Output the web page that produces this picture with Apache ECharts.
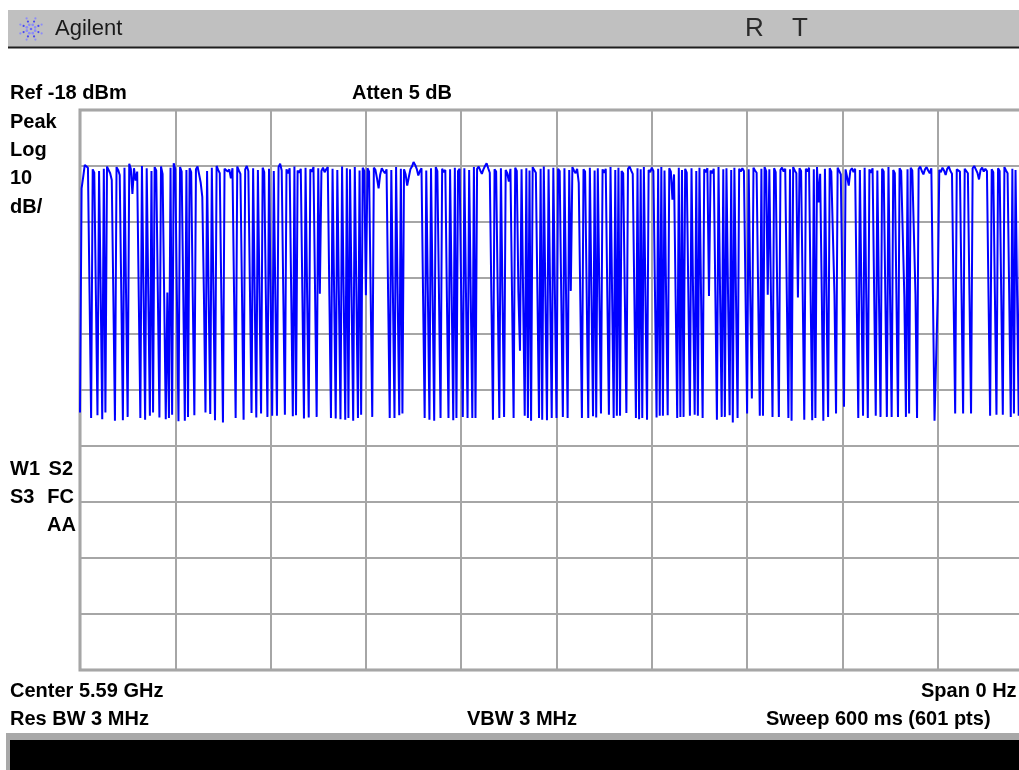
<!DOCTYPE html>
<html><head><meta charset="utf-8">
<script src="https://cdn.jsdelivr.net/npm/echarts@6/dist/echarts.min.js"></script>
<style>html,body{margin:0;padding:0;background:#fff;overflow:hidden}#c{width:1040px;height:770px}</style>
</head><body><div id="c"></div>
<script>
// ---- data ----
const sweepRangeMs = [0, 600];          // zero-span sweep, 601 points
const levelRangeDbm = [-118, -18];      // ref -18 dBm, 10 dB/div
const trace = [
-72,-32,-30,-27.8,-27.6,-28.3,-50.5,-73,-28.6,-29.2,
-51,-72.5,-28.9,-50,-73.2,-28.5,-72,-28.1,-28.4,-29.3,
-30.5,-51.2,-73.5,-28.2,-28.7,-29.6,-50.8,-73.4,-28.3,-51,
-72.8,-27.6,-28.5,-33,-28.4,-30.6,-29,-51.5,-73,-28,
-50.2,-73.3,-28.4,-50.9,-72.6,-28.9,-72,-28.2,-28.8,-50.5,
-72.9,-28.1,-29.4,-51.3,-73.2,-50.6,-73,-28.3,-72.4,-27.5,
-28.6,-51,-73.6,-28.2,-29,-50.4,-73.5,-28.7,-72.8,-28.4,
-29.1,-51.4,-72.5,-28.6,-28.1,-29.5,-31,-33.5,-50.7,-72,
-28.9,-51,-72.3,-28.3,-50.1,-73.4,-28,-28.7,-29.3,-51.6,
-73.8,-28.5,-28.2,-29,-28.6,-30.2,-28.4,-50.8,-73,-28.1,
-28.8,-29.4,-51.1,-73.3,-28.6,-28,-28.9,-50.3,-72.1,-28.4,
-51.2,-72.9,-28.7,-50.6,-72.2,-28.3,-29.1,-51,-72.8,-28.5,
-50.4,-72.6,-28.9,-51.5,-72.6,-28.2,-27.6,-28.8,-50.9,-72.4,
-28.6,-29.3,-28.4,-51.3,-72.7,-28.1,-72.5,-28.8,-29.2,-28.5,
-50.7,-73.1,-28.3,-51,-72.9,-28.6,-29,-28.2,-50.5,-72.8,
-28.4,-50.8,-28.9,-28.3,-29.1,-28.6,-28.2,-51.2,-73,-28.5,
-50.6,-73.1,-28.7,-51,-73.2,-28.1,-50.9,-73.3,-28.4,-73,
-28.6,-51.4,-73.5,-28.2,-50.5,-73,-28.8,-72.4,-28.3,-28.9,
-51.1,-28.4,-29,-50.8,-72.8,-28.3,-28.7,-30.2,-32,-29.5,
-28.4,-28.9,-29.3,-28.6,-51.3,-73,-28.7,-50.6,-73,-28.2,
-51.2,-72.5,-28.5,-72.2,-28.6,-29.5,-31.5,-30,-28.6,-28.1,
-27.3,-27.8,-28.5,-29.7,-28.9,-28.4,-51.2,-73,-28.8,-50.4,
-73.3,-28.4,-51,-73.5,-28.2,-28.9,-50.7,-73,-28.5,-29.1,
-28.7,-51.5,-73,-28.6,-50.9,-73.4,-28.3,-73,-28.9,-28.5,
-51.1,-72.8,-28.4,-50.6,-73,-28.7,-51,-73,-28.2,-73,
-28.5,-28.1,-28.8,-29.4,-28.6,-28,-27.5,-28.4,-29.2,-51.4,
-73.3,-28.6,-29,-50.8,-73,-28.4,-51.2,-72.8,-28.7,-29.3,
-30.8,-28.5,-51,-73,-28.3,-28.9,-50.5,-61,-28.6,-51.3,
-72.6,-28.4,-73,-28.8,-73.5,-28.2,-28.7,-29.2,-50.9,-73,
-28.5,-73.3,-28.1,-51.2,-73.4,-28.6,-50.7,-73,-28.3,-51,
-73,-28.5,-28.9,-51.5,-72.8,-28.4,-50.8,-73,-28.7,-50.3,
-28.2,-28.8,-29.3,-28.5,-31,-52,-73,-28.6,-29,-50.6,
-73,-28.3,-51.1,-72.7,-28.8,-72.9,-28.4,-50.9,-72.2,-28.6,
-29.2,-28.5,-51.3,-72.4,-28.2,-50.7,-73,-28.7,-72.6,-28.3,
-72.6,-28.9,-29.3,-51,-72.1,-28.5,-28.1,-28.8,-29.4,-50.8,
-73,-28.4,-73.2,-28.6,-73,-28.2,-51.2,-73.3,-28.7,-29.1,
-28.3,-28.9,-50.5,-72.9,-28.5,-72.6,-28.2,-72.6,-28.8,-51,
-72.5,-28.4,-29,-34,-29.5,-51.4,-73,-28.3,-72.8,-28.7,
-72.8,-28.5,-29.2,-50.6,-72.6,-28.4,-51.1,-72.4,-28.9,-72.6,
-28.3,-50.8,-73,-28.6,-29.1,-28.4,-51.2,-28.8,-29.3,-28.5,
-50.5,-73.3,-28.2,-51,-72.8,-28.6,-72.8,-28.4,-50.9,-72.5,
-28.7,-73.8,-28.3,-51.3,-73,-28.5,-29,-28.4,-28.9,-50.7,
-72.2,-28.6,-51,-69.5,-28.3,-28.8,-29.2,-51.4,-72.6,-28.5,
-72.6,-28.2,-28.9,-51,-28.6,-50.6,-72.8,-28.4,-29.1,-51.2,
-72.8,-28.7,-28.3,-29,-28.5,-50.9,-73,-28.6,-73.5,-28.2,
-28.8,-29.3,-51.5,-28.4,-28.9,-50.8,-73.3,-28.5,-29,-28.3,
-51.1,-73.4,-28.6,-73,-28.2,-34.5,-29.4,-50.6,-73.5,-28.5,
-51.2,-72.8,-28.4,-29,-28.7,-51,-72.2,-28.3,-28.9,-29.5,
-50.5,-71,-28.6,-30,-31.5,-28.8,-28.4,-29.1,-28.5,-51.3,
-73,-28.7,-50.9,-72.6,-28.3,-51,-73,-28.6,-29.2,-28.4,
-50.7,-72.6,-28.8,-51.2,-72.8,-28.5,-29,-50.6,-72.8,-28.2,
-51.1,-72.8,-28.7,-29.3,-50.8,-72.8,-28.4,-28.9,-29.2,-51.4,
-72.8,-28.6,-72.2,-28.3,-28.8,-29.1,-50.9,-73,-28.5,-28.1,
-28.9,-29.5,-28.6,-28.2,-28.8,-29.3,-28.4,-51,-73.5,-73.3,
-51.5,-28.7,-29.1,-28.3,-28.8,-29.6,-28.5,-28.1,-28.9,-29.4,
-51.2,-72.2,-28.6,-28.3,-29,-50.7,-72.2,-28.5,-28.9,-29.3,
-51,-72.2,-28.4,-28,-28.6,-29.2,-30.4,-28.7,-28.3,-29,
-28.5,-28.9,-51.3,-72.6,-28.6,-29.1,-50.8,-72.4,-28.4,-28.9,
-51,-72.4,-28.2,-28.8,-29.3,-50.6,-72.8,-28.5,-72.2,-28.7,
-51.2,-72.6,-29,-30.5,-50.9,-72.8,-28.6,-29.2,-72.5,-28.4,
-28.9
];
const headerLabels = ['Agilent', 'R', 'T'];
const topLabels = ['Ref -18 dBm', 'Atten 5 dB'];
const scaleLabels = ['Peak', 'Log', '10', 'dB/'];
const statusLabels = ['W1', 'S2', 'S3', 'FC', 'AA'];
const footerLabels = ['Center 5.59 GHz', 'Span 0 Hz', 'Res BW 3 MHz', 'VBW 3 MHz', 'Sweep 600 ms (601 pts)'];

// ---- chart ----
const stepMs = (sweepRangeMs[1] - sweepRangeMs[0]) / (trace.length - 1);
const seriesData = trace.map((v, i) => [sweepRangeMs[0] + i * stepMs, v]);

const BOLD = 'bold 20px "Liberation Sans", Arial, sans-serif';
function txt(text, x, y, font, align, fill) {
  return { type: 'text', silent: true, style: { text: text, x: x, y: y, font: font || BOLD,
    fill: fill || '#000', textAlign: align || 'left', align: align || 'left',
    textVerticalAlign: 'middle', verticalAlign: 'middle' } };
}
const g = [];
g.push({ type: 'rect', silent: true, shape: { x: 8, y: 10, width: 1040, height: 37 }, style: { fill: '#c0c0c0' } });
g.push({ type: 'rect', silent: true, shape: { x: 8, y: 46.5, width: 1040, height: 2 }, style: { fill: '#1e1e1e' } });
const lc = [31, 29];
for (let k = 0; k < 8; k++) {
  const a = k * Math.PI / 4 + Math.PI / 8;
  [4.5, 8, 11.5].forEach((r, j) => {
    g.push({ type: 'circle', silent: true,
      shape: { cx: lc[0] + r * Math.cos(a), cy: lc[1] + r * Math.sin(a), r: j === 0 ? 1.4 : 1.1 },
      style: { fill: j === 1 ? '#4848f0' : '#8c8cf8' } });
  });
}
g.push({ type: 'circle', silent: true, shape: { cx: lc[0], cy: lc[1], r: 1.3 }, style: { fill: '#6a6af4' } });
const REG22 = '22px "Liberation Sans", Arial, sans-serif';
const REG26 = '26px "Liberation Sans", Arial, sans-serif';
g.push(txt(headerLabels[0], 55, 29, REG22, 'left', '#1a1a1a'));
g.push(txt(headerLabels[1], 745, 29, REG26, 'left', '#2a2a2a'));
g.push(txt(headerLabels[2], 792, 29, REG26, 'left', '#2a2a2a'));
g.push(txt(topLabels[0], 10, 93));
g.push(txt(topLabels[1], 352, 93));
scaleLabels.forEach((s, i) => g.push(txt(s, 10, 122.5 + i * 28.2)));
g.push(txt(statusLabels[0], 10, 469));
g.push(txt(statusLabels[1], 73, 469, BOLD, 'right'));
g.push(txt(statusLabels[2], 10, 497));
g.push(txt(statusLabels[3], 74, 497, BOLD, 'right'));
g.push(txt(statusLabels[4], 76, 525, BOLD, 'right'));
g.push(txt(footerLabels[0], 10, 691));
g.push(txt(footerLabels[1], 921, 691));
g.push(txt(footerLabels[2], 10, 719));
g.push(txt(footerLabels[3], 467, 719));
g.push(txt(footerLabels[4], 766, 719));
g.push({ type: 'rect', silent: true, shape: { x: 6, y: 733, width: 1040, height: 37 }, style: { fill: '#a8a8a8' } });
g.push({ type: 'rect', silent: true, shape: { x: 10, y: 740, width: 1040, height: 30 }, style: { fill: '#000' } });

const gridLine = { show: true, lineStyle: { color: '#a6a6a6', width: 2 } };
const chart = echarts.init(document.getElementById('c'), null, { renderer: 'canvas' });
chart.setOption({
  animation: false,
  backgroundColor: '#ffffff',
  grid: { left: 80, top: 110, width: 953, height: 560, show: true, borderColor: '#a0a0a0', borderWidth: 3, backgroundColor: 'transparent', containLabel: false },
  xAxis: { type: 'value', min: sweepRangeMs[0], max: sweepRangeMs[1], interval: 60,
    axisLine: { show: false }, axisTick: { show: false }, axisLabel: { show: false }, splitLine: gridLine },
  yAxis: { type: 'value', min: levelRangeDbm[0], max: levelRangeDbm[1], interval: 10,
    axisLine: { show: false }, axisTick: { show: false }, axisLabel: { show: false }, splitLine: gridLine },
  series: [{ type: 'line', data: seriesData, showSymbol: false, symbol: 'none', silent: true,
    lineStyle: { color: '#0000ff', width: 2 }, clip: true, z: 5 }],
  graphic: { elements: g }
});
</script></body></html>
